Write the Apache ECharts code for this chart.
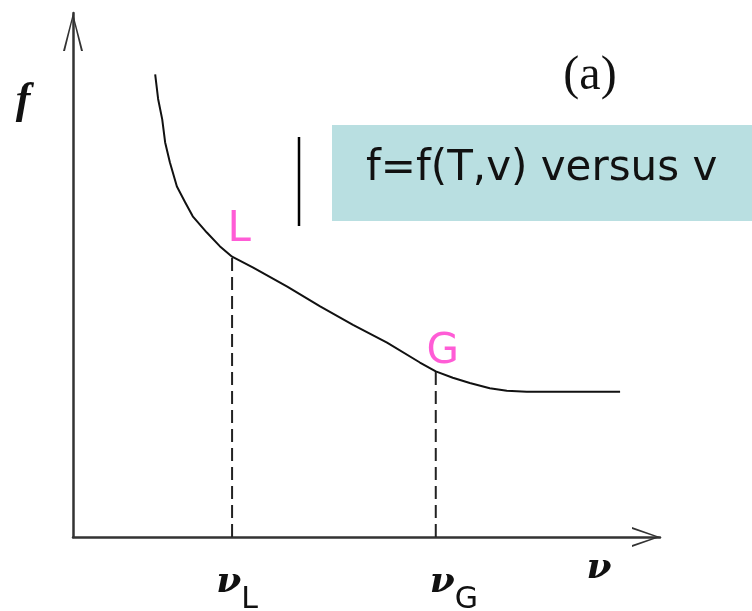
<!DOCTYPE html>
<html>
<head>
<meta charset="utf-8">
<script src="https://cdn.jsdelivr.net/npm/echarts@6/dist/echarts.min.js"></script>
<style>html,body{margin:0;padding:0;background:#fff}#c{width:752px;height:611px}</style>
</head>
<body>
<div id="c"></div>
<script>
// curve f(v)
const curveX = [1.40,1.45,1.52,1.57,1.65,1.77,1.91,2.04,2.28,2.50,2.71,3.07,3.65,4.21,4.77,5.35,5.91,6.18,6.47,6.76,7.10,7.39,7.73,9.32];
const curveY = [8.83,8.36,7.97,7.53,7.15,6.69,6.39,6.12,5.81,5.55,5.35,5.14,4.78,4.40,4.05,3.71,3.33,3.16,3.04,2.94,2.84,2.79,2.77,2.77];
// marked points
const pointNames = ['L','G'];
const pointX = [2.71, 6.18];
const pointY = [5.35, 3.16];
// x tick labels
const tickValues = [2.71, 6.18, 8.96];
const tickMain = ['ν','ν','ν'];
const tickSubs = ['L','G',''];
const boxText = 'f=f(T,v) versus v';

// label styling (not data)
const tickLeftPad = [10, 36, 0];
const pointLabelDy = [-6, 2];

const chart = echarts.init(document.getElementById('c'));
const curve = curveX.map((x,i)=>[x,curveY[i]]);
const dashSeries = pointX.map((x,i)=>({
  type:'line', data:[[x,0],[x,pointY[i]]], symbol:'none', silent:true,
  lineStyle:{color:'#222', width:2, type:[13,6]}
}));
chart.setOption({
  animation:false,
  grid:{left:73, right:92, top:13, bottom:74, outerBoundsMode:'none', containLabel:false},
  xAxis:{type:'value', min:0, max:10,
    splitLine:{show:false}, axisTick:{show:false},
    axisLine:{lineStyle:{color:'#333', width:2.5},
      symbol:['none','path://M0,28 L10,0 L20,28 L18,28 L10,4 L2,28 Z'],
      symbolSize:[20,28], symbolOffset:[0,-14]},
    axisLabel:{customValues:tickValues, margin:14, hideOverlap:false,
      formatter:function(v){
        const i = tickValues.indexOf(v);
        if(i<0) return '';
        const s = tickSubs[i];
        const pad = tickLeftPad[i] ? '{p'+i+'|}' : '';
        return s ? pad+'{n|'+tickMain[i]+'}{s|'+s+'}' : '{n|'+tickMain[i]+'}';
      },
      rich:{
        n:{fontFamily:'DejaVu Serif', fontStyle:'italic', fontWeight:'bold', fontSize:36, color:'#111'},
        s:{fontFamily:'DejaVu Sans', fontSize:30, color:'#111', padding:[34,0,0,0]},
        p0:{width:tickLeftPad[0]},
        p1:{width:tickLeftPad[1]}
      }}
  },
  yAxis:{type:'value', min:0, max:10,
    splitLine:{show:false}, axisTick:{show:false}, axisLabel:{show:false},
    axisLine:{lineStyle:{color:'#333', width:2.5},
      symbol:['none','path://M0,38 L10,0 L20,38 L18,38 L10,5 L2,38 Z'],
      symbolSize:[20,38], symbolOffset:[0,-19]}
  },
  series:[
    {type:'line', data:curve, symbol:'none', smooth:false, lineStyle:{color:'#111', width:2, join:'round'}},
    ...dashSeries,
    {type:'scatter', symbolSize:0,
      data:pointNames.map((n,i)=>({name:n, value:[pointX[i],pointY[i]]})),
      label:{show:true, formatter:'{b}', position:'top', distance:0,
        color:'#ff33cc', fontFamily:'DejaVu Sans', fontSize:42},
      labelLayout:function(p){return {dx:7, dy:pointLabelDy[p.dataIndex]};}
    }
  ],
  graphic:[
    {type:'rect', left:332, top:125, shape:{width:420, height:96}, style:{fill:'#b9dfe1'}},
    {type:'text', left:366, top:148, style:{text:boxText, fontFamily:'DejaVu Sans', fontSize:42, fill:'#111'}},
    {type:'line', shape:{x1:299, y1:137, x2:299, y2:226}, style:{stroke:'#000', lineWidth:2.5}},
    {type:'text', x:590, y:76, style:{text:'(a)', fontFamily:'Liberation Serif', fontSize:48, fill:'#111', align:'center', verticalAlign:'middle'}},
    {type:'text', x:23, y:102, style:{text:'f', fontFamily:'Liberation Serif', fontStyle:'italic', fontWeight:'bold', fontSize:44, fill:'#111', align:'center', verticalAlign:'middle'}}
  ]
});
</script>
</body>
</html>
